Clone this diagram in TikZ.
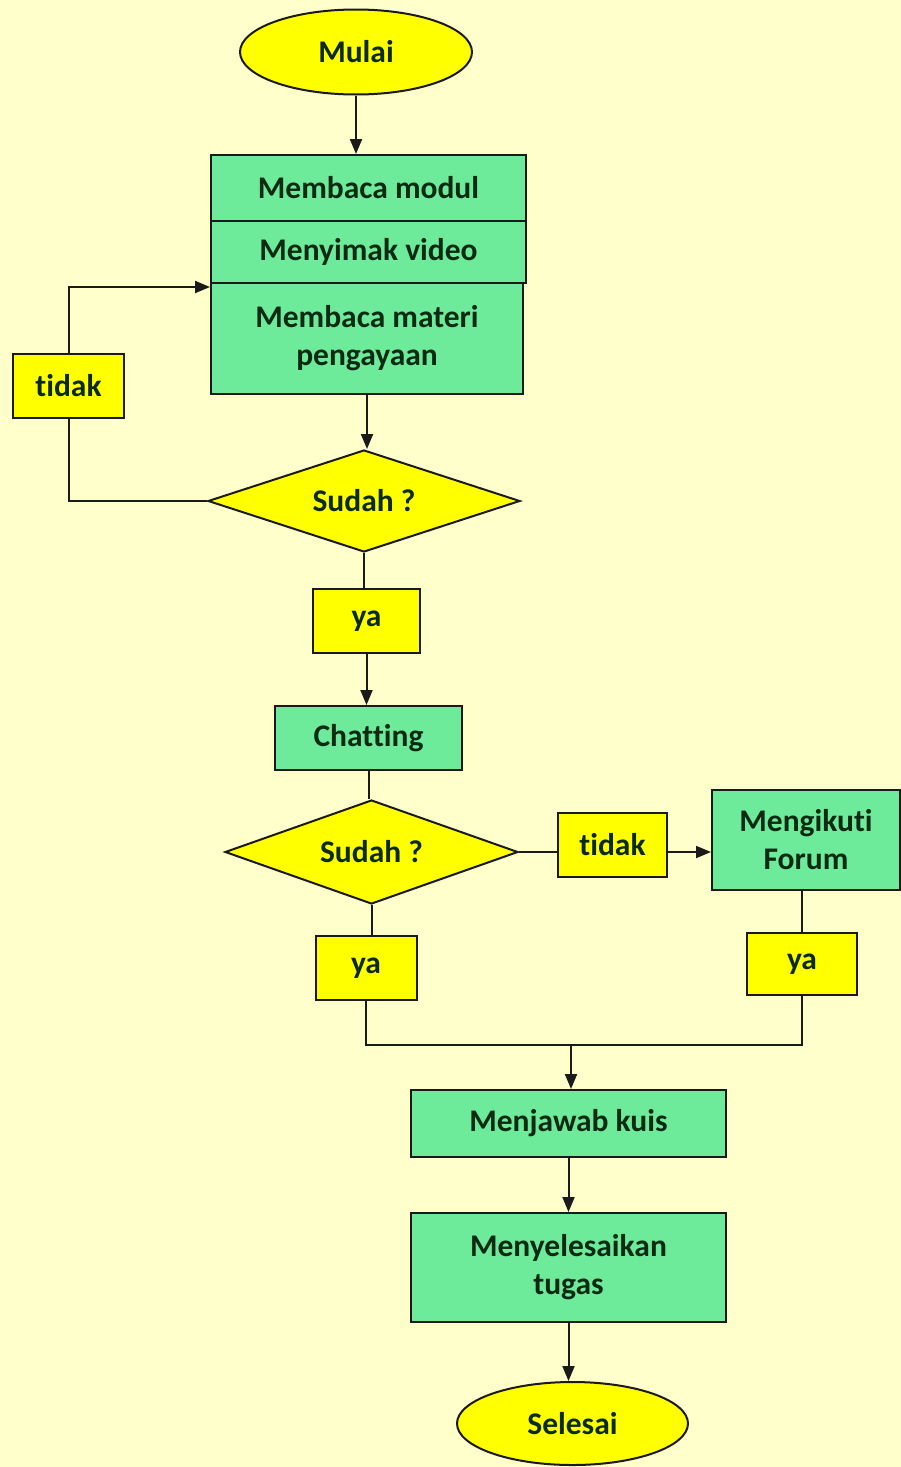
\documentclass[tikz,border=0pt]{standalone}
\usepackage{fontspec}
\setmainfont{Carlito}[Ligatures=NoCommon]
\usetikzlibrary{shapes.geometric,arrows.meta,calc}
\definecolor{bg}{HTML}{FFFFCC}
\definecolor{gbox}{HTML}{6DEB9B}
\definecolor{ybox}{HTML}{FFFF00}
\definecolor{txt}{HTML}{0B2A12}
\definecolor{edge}{HTML}{1A1A1A}
\begin{document}
\begin{tikzpicture}[x=1pt,y=-1pt,
  base/.style={draw=edge, line width=2pt, inner sep=0pt, text=txt, align=center,
    font=\fontsize{31.5}{38}\selectfont\bfseries},
  proc/.style={base, rectangle, fill=gbox},
  lbl/.style={base, rectangle, fill=ybox},
  term/.style={base, ellipse, fill=ybox},
  dec/.style={base, diamond, aspect=3, fill=ybox},
  line/.style={draw=edge, line width=2pt},
  arr/.style={line, -{Triangle[length=15pt,width=12pt]}}]
\useasboundingbox (0,0) rectangle (901,1467);
\fill[bg] (0,0) rectangle (901,1467);

\node[term, minimum width=232pt, minimum height=85pt] (mulai) at (356,52) {Mulai};
\node[proc, minimum width=315pt, minimum height=66pt] (b1) at (368.5,188) {Membaca modul};
\node[proc, minimum width=315pt, minimum height=62pt] (b2) at (368.5,252) {Menyimak video};
\node[proc, minimum width=312pt, minimum height=111pt] (b3) at (367,338.5) {Membaca materi\\pengayaan};
\node[dec, minimum width=312pt, minimum height=102pt] (d1) at (364,501) {Sudah ?};
\node[lbl, minimum width=111pt, minimum height=64pt] (t1) at (68.5,386) {tidak};
\node[lbl, minimum width=107pt, minimum height=64pt] (y1) at (366.5,621) {ya};
\node[proc, minimum width=187pt, minimum height=64pt] (chat) at (368.5,738) {Chatting};
\node[dec, minimum width=293pt, minimum height=104pt] (d2) at (371.5,852) {Sudah ?};
\node[lbl, minimum width=109pt, minimum height=64pt] (t2) at (612.5,845) {tidak};
\node[proc, minimum width=188pt, minimum height=100pt] (forum) at (806,840) {Mengikuti\\Forum};
\node[lbl, minimum width=101pt, minimum height=64pt] (y2) at (366,968) {ya};
\node[lbl, minimum width=110pt, minimum height=62pt] (y3) at (802,964) {ya};
\node[proc, minimum width=315pt, minimum height=67pt] (kuis) at (568.5,1123.5) {Menjawab kuis};
\node[proc, minimum width=315pt, minimum height=109pt] (tugas) at (568.5,1267.5) {Menyelesaikan\\tugas};
\node[term, minimum width=231pt, minimum height=83pt] (selesai) at (572.5,1423.5) {Selesai};

\coordinate (jl) at (369,1045);
\coordinate (jm) at (571,1045);

\draw[arr] (mulai.south) -- (mulai.south |- b1.north);
\draw[arr] (b3.south) -- (b3.south |- d1.north);
\draw[line] (d1.west) -| (t1.south);
\draw[arr] (t1.north) |- ($(b3.north west)+(0,5)$);
\draw[line] (d1.south) -- (d1.south |- y1.north);
\draw[arr] (y1.south) -- (y1.south |- chat.north);
\draw[line] (chat.south) -- (chat.south |- d2.north);
\draw[line] (d2.east) -- (d2.east -| t2.west);
\draw[arr] (t2.east |- d2.east) -- (forum.west |- d2.east);
\draw[line] (d2.south) -- (d2.south |- y2.north);
\draw[line] (y2.south) |- (y3.south |- jl) -- (y3.south);
\draw[line] (forum.south -| y3.north) -- (y3.north);
\draw[arr] (jm) -- (jm |- kuis.north);
\draw[arr] (kuis.south) -- (tugas.north);
\draw[arr] (tugas.south) -- (tugas.south |- selesai.north);
\end{tikzpicture}
\end{document}
